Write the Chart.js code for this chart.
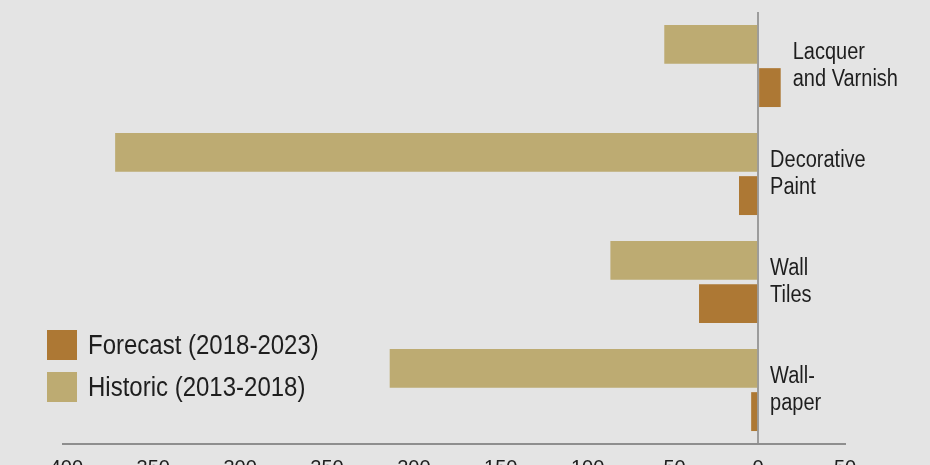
<!DOCTYPE html>
<html>
<head>
<meta charset="utf-8">
<script src="https://cdn.jsdelivr.net/npm/chart.js@4.4.1/dist/chart.umd.min.js"></script>
<style>
  html, body { margin: 0; padding: 0; background: #e4e4e4; overflow: hidden; }
  #wrap { width: 930px; height: 465px; }
</style>
</head>
<body>
<div id="wrap"><canvas id="myChart" width="930" height="465"></canvas></div>
<script>
// values
const categories = [['Lacquer', 'and Varnish'], ['Decorative', 'Paint'], ['Wall', 'Tiles'], ['Wall-', 'paper']];
const historic = [-54, -370, -85, -212];
const forecast = [13, -11, -34, -4];
const xTicks = [-400, -350, -300, -250, -200, -150, -100, -50, 0, 50];

const historicColor = '#bdab72';
const forecastColor = '#ad7834';
const textColor = '#1e1e1e';
const fontName = '"Liberation Sans", Arial, sans-serif';

// category names sit just right of the zero line (or of the bar if it sticks out)
const categoryLabels = {
    id: 'categoryLabels',
    afterDatasetsDraw(chart) {
        const ctx = chart.ctx;
        const x = chart.scales.x, y = chart.scales.y;
        ctx.save();
        ctx.fillStyle = textColor;
        ctx.font = '20px ' + fontName;
        ctx.textAlign = 'left';
        ctx.textBaseline = 'middle';
        categories.forEach((lines, i) => {
            const right = Math.max(x.getPixelForValue(0), x.getPixelForValue(historic[i]), x.getPixelForValue(forecast[i]));
            const cy = y.getPixelForValue(i);
            lines.forEach((line, j) => {
                const ly = cy + (j - (lines.length - 1) / 2) * 27;
                ctx.save();
                ctx.translate(right + 12, ly);
                ctx.scale(1, 1.15);
                ctx.fillText(line, 0, 0);
                ctx.restore();
            });
        });
        ctx.restore();
    }
};

// legend box in the lower left corner, forecast listed first
const cornerLegend = {
    id: 'cornerLegend',
    afterDraw(chart) {
        const ctx = chart.ctx;
        const items = chart.data.datasets.slice().reverse();
        ctx.save();
        ctx.font = '24px ' + fontName;
        ctx.textAlign = 'left';
        ctx.textBaseline = 'middle';
        items.forEach((ds, k) => {
            const top = 330 + k * 42;
            ctx.fillStyle = ds.backgroundColor;
            ctx.fillRect(47, top, 30, 30);
            ctx.fillStyle = textColor;
            ctx.save();
            ctx.translate(88, top + 16);
            ctx.scale(1, 1.15);
            ctx.fillText(ds.label, 0, 0);
            ctx.restore();
        });
        ctx.restore();
    }
};

window.onload = () => {
    const ctx = document.getElementById('myChart').getContext('2d');
    const myChart = new Chart(ctx, {
        type: 'bar',
        data: {
            labels: categories.map(c => c.join(' ')),
            datasets: [{
                label: 'Historic (2013-2018)',
                data: historic,
                backgroundColor: historicColor,
                categoryPercentage: 0.8,
                barPercentage: 0.9
            }, {
                label: 'Forecast (2018-2023)',
                data: forecast,
                backgroundColor: forecastColor,
                categoryPercentage: 0.8,
                barPercentage: 0.9
            }]
        },
        options: {
            indexAxis: 'y',
            responsive: false,
            animation: false,
            layout: {
                padding: { left: 63, right: 85, top: 12, bottom: 0 }
            },
            plugins: {
                legend: { display: false },
                tooltip: { enabled: false }
            },
            scales: {
                x: {
                    min: -400,
                    max: 50,
                    afterBuildTicks: (scale) => {
                        scale.ticks = xTicks.map(v => ({ value: v }));
                    },
                    afterFit: (scale) => {
                        scale.height = 21;
                    },
                    border: { display: true, color: '#8e8e8e', width: 2 },
                    grid: {
                        drawTicks: false,
                        color: (c) => c.tick && c.tick.value === 0 ? '#9c9c9c' : 'transparent',
                        lineWidth: 2
                    },
                    ticks: {
                        padding: 12,
                        color: textColor,
                        font: { size: 20, family: fontName }
                    }
                },
                y: {
                    display: false,
                    grid: { display: false }
                }
            }
        },
        plugins: [categoryLabels, cornerLegend]
    });
};
</script>
</body>
</html>
